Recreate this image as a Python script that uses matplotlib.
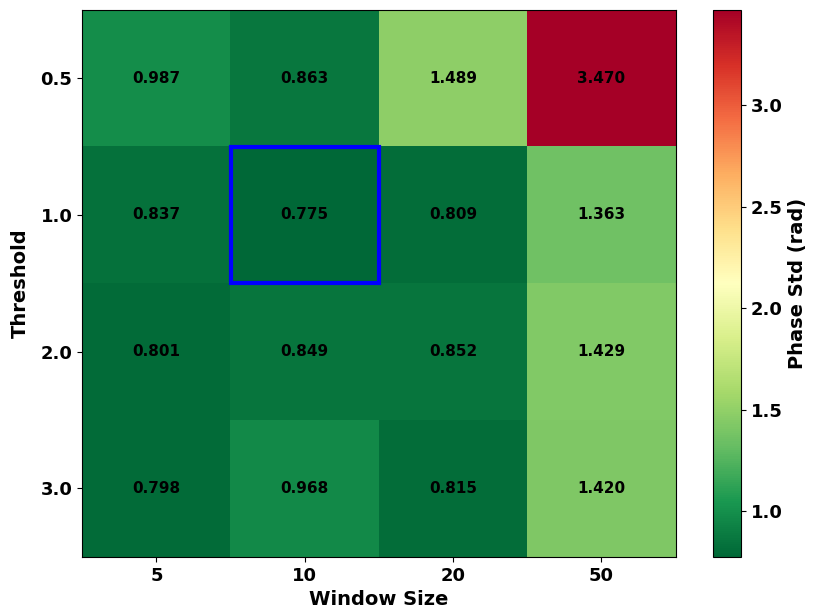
import numpy as np
import matplotlib
matplotlib.use('Agg')
import matplotlib.pyplot as plt
from matplotlib.patches import Rectangle

window_sizes = [5, 10, 20, 50]
thresholds = [0.5, 1.0, 2.0, 3.0]
phase_std = np.array([
    [0.987, 0.863, 1.489, 3.470],
    [0.837, 0.775, 0.809, 1.363],
    [0.801, 0.849, 0.852, 1.429],
    [0.798, 0.968, 0.815, 1.420],
])

fig = plt.figure(figsize=(8.14, 6.16), dpi=100)
ax = fig.add_axes([0.101, 0.096, 0.729, 0.888])
cax = fig.add_axes([0.876, 0.096, 0.034, 0.888])

im = ax.imshow(phase_std, cmap='RdYlGn_r', aspect='auto')
cb = fig.colorbar(im, cax=cax)
cb.set_label('Phase Std (rad)', fontsize=14, fontweight='bold')
for t in cb.ax.get_yticklabels():
    t.set_fontsize(13)
    t.set_fontweight('bold')

ax.set_xticks(range(len(window_sizes)))
ax.set_xticklabels([str(w) for w in window_sizes], fontsize=13, fontweight='bold')
ax.set_yticks(range(len(thresholds)))
ax.set_yticklabels([f'{t:.1f}' for t in thresholds], fontsize=13, fontweight='bold')
ax.set_xlabel('Window Size', fontsize=14, fontweight='bold')
ax.set_ylabel('Threshold', fontsize=14, fontweight='bold', labelpad=8)

for i in range(len(thresholds)):
    for j in range(len(window_sizes)):
        ax.text(j, i, f'{phase_std[i, j]:.3f}', ha='center', va='center',
                fontsize=11, fontweight='bold', color='black')

# mark the best (lowest) cell
bi, bj = np.unravel_index(np.argmin(phase_std), phase_std.shape)
ax.add_patch(Rectangle((bj - 0.5, bi - 0.5), 1, 1, fill=False,
                       edgecolor='blue', linewidth=3))

fig.savefig('out.png', dpi=100)
